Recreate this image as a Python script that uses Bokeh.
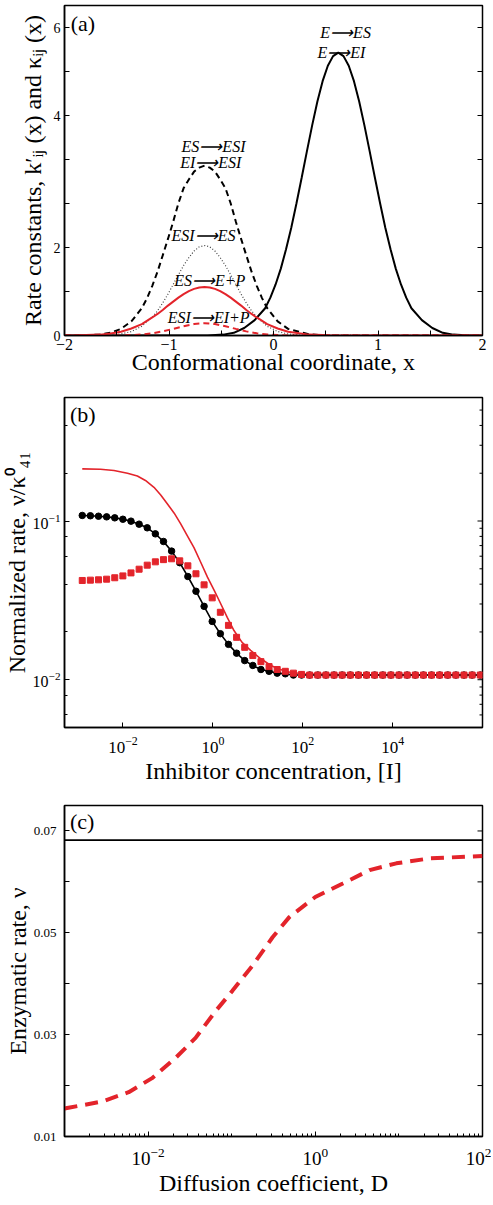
import numpy as np
from bokeh.plotting import figure
from bokeh.layouts import column
from bokeh.models import FixedTicker, LogTicker, Range1d
from bokeh.embed import file_html
from bokeh.resources import INLINE
from bokeh.core.properties import value

FONT = "Liberation Serif"
RED = "#e3242b"

# ---------------- Panel (a): rate constants vs conformational coordinate ----------------
a_solid_x = [-2.0, -0.63, -0.48, -0.38, -0.28, -0.18, -0.08, -0.03, 0.02, 0.07, 0.12, 0.17, 0.22, 0.27,
             0.32, 0.37, 0.42, 0.47, 0.52, 0.57, 0.62, 0.67, 0.72, 0.77, 0.82, 0.87, 0.92, 0.97,
             1.02, 1.07, 1.12, 1.17, 1.22, 1.27, 1.32, 1.42, 1.52, 1.62, 1.72, 1.87, 2.0]
a_solid_y = [0.0, 0.0, 0.02, 0.06, 0.17, 0.35, 0.62, 0.86, 1.16, 1.52, 1.96, 2.30, 2.67, 3.06,
             3.46, 3.85, 4.32, 4.78, 5.13, 5.35, 5.43, 5.35, 5.13, 4.78, 4.32, 3.85, 3.46, 3.06,
             2.67, 2.30, 1.96, 1.52, 1.16, 0.86, 0.62, 0.35, 0.17, 0.06, 0.02, 0.0, 0.0]

a_dash_x = [-2.0, -1.86, -1.66, -1.56, -1.46, -1.36, -1.26, -1.21, -1.16, -1.11, -1.06, -1.01, -0.96,
            -0.91, -0.86, -0.81, -0.76, -0.71, -0.66, -0.61, -0.56, -0.51, -0.46, -0.41, -0.36,
            -0.31, -0.26, -0.21, -0.16, -0.11, -0.06, 0.04, 0.14, 0.34, 0.54, 2.0]
a_dash_y = [0.0, 0.0, 0.025, 0.065, 0.15, 0.32, 0.62, 0.85, 1.13, 1.45, 1.82, 2.13, 2.39,
            2.67, 2.90, 3.03, 3.15, 3.21, 3.24, 3.21, 3.15, 3.03, 2.90, 2.67, 2.39,
            2.13, 1.82, 1.45, 1.13, 0.85, 0.62, 0.32, 0.15, 0.025, 0.0, 0.0]

a_dot_x = [-2.0, -1.56, -1.46, -1.36, -1.26, -1.16, -1.11, -1.06, -1.01, -0.96, -0.91, -0.86, -0.81,
           -0.76, -0.71, -0.66, -0.61, -0.56, -0.51, -0.46, -0.41, -0.36, -0.31, -0.26, -0.21,
           -0.16, -0.06, 0.04, 0.14, 0.24, 2.0]
a_dot_y = [0.0, 0.01, 0.035, 0.09, 0.21, 0.42, 0.56, 0.74, 0.94, 1.16, 1.38, 1.59, 1.77,
           1.92, 2.01, 2.03, 2.01, 1.92, 1.77, 1.59, 1.38, 1.16, 0.94, 0.74, 0.56,
           0.42, 0.21, 0.09, 0.035, 0.01, 0.0]

a_red_x = [-2.0, -1.86, -1.66, -1.56, -1.46, -1.36, -1.26, -1.16, -1.11, -1.06, -1.01, -0.96, -0.91,
           -0.86, -0.81, -0.76, -0.71, -0.66, -0.61, -0.56, -0.51, -0.46, -0.41, -0.36, -0.31,
           -0.26, -0.21, -0.16, -0.06, 0.04, 0.14, 0.34, 0.54, 2.0]
a_red_y = [0.0, 0.003, 0.02, 0.044, 0.087, 0.16, 0.26, 0.41, 0.49, 0.58, 0.68, 0.77, 0.86,
           0.94, 1.01, 1.06, 1.09, 1.10, 1.09, 1.06, 1.01, 0.94, 0.86, 0.77, 0.68,
           0.58, 0.49, 0.41, 0.26, 0.16, 0.087, 0.02, 0.003, 0.0]

a_reddash_x = [-2.0, -1.46, -1.36, -1.26, -1.16, -1.06, -0.96, -0.86, -0.76, -0.66, -0.56, -0.46,
               -0.36, -0.26, -0.16, -0.06, 0.04, 0.14, 2.0]
a_reddash_y = [0.0, 0.0, 0.01, 0.024, 0.05, 0.094, 0.15, 0.21, 0.26, 0.28, 0.26, 0.21,
               0.15, 0.094, 0.05, 0.024, 0.01, 0.0, 0.0]

# the printed y axis is uneven: labels 0,2,4,6 sit at tick slots 0,2,5,7
a_tick_vals = [0, 2, 4, 6]
a_tick_slots = [0, 2, 5, 7]
a_tick_labels = ["0", "2", "4", "6"]
a_xtick_labels = {-2: "\u22122", -1: "\u22121", 0: "0", 1: "1", 2: "2"}

a_notes = ["E\u27f6ES", "E\u27f6EI", "ES\u27f6ESI", "EI\u27f6ESI", "ESI\u27f6ES", "ES\u27f6E+P", "ESI\u27f6EI+P"]


def a_map(v):
    return np.interp(v, a_tick_vals, a_tick_slots)


# ---------------- Panel (b): normalized rate vs inhibitor concentration ----------------
b_conc = 10 ** np.linspace(-2.906, 5.95, 50)
b_black = [0.1084, 0.1079, 0.1072, 0.1062, 0.1047, 0.1026, 0.0998, 0.0955, 0.0906, 0.0830,
           0.0743, 0.0646, 0.0546, 0.0447, 0.0361, 0.0290, 0.0233, 0.0195, 0.0167, 0.0147,
           0.0132, 0.0123, 0.0116, 0.0113, 0.0110, 0.0109] + [0.0107] * 24
b_red_sq = [0.0422, 0.0424, 0.0426, 0.0430, 0.0439, 0.0451, 0.0471, 0.0497, 0.0527, 0.0553,
            0.0571, 0.0578, 0.0561, 0.0522, 0.0465, 0.0396, 0.0328, 0.0266, 0.0220, 0.0185,
            0.0160, 0.0142, 0.0130, 0.0121, 0.0116, 0.0113, 0.0110, 0.0108] + [0.0107] * 22
b_line_logx = [-2.906, -2.5, -2.2, -1.9, -1.68, -1.5, -1.31, -1.16, -1.01, -0.86, -0.715, -0.57,
               -0.42, -0.27, -0.12, 0.03, 0.175, 0.32, 0.47, 0.65, 0.84, 1.06, 1.29, 1.5,
               1.735, 2.03, 2.5, 3.0, 5.95]
b_line_y = [0.213, 0.212, 0.208, 0.200, 0.192, 0.180, 0.163, 0.146, 0.128, 0.112, 0.096, 0.081,
            0.068, 0.055, 0.0443, 0.0365, 0.0301, 0.0247, 0.0204, 0.0172, 0.0153, 0.0136, 0.0123, 0.0116,
            0.0111, 0.0109, 0.0108, 0.0107, 0.0107]

# ---------------- Panel (c): enzymatic rate vs diffusion coefficient ----------------
c_logD = [-3.0, -2.952, -2.552, -2.232, -1.952, -1.672, -1.432, -1.192, -0.992, -0.752, -0.511,
          -0.311, 0.0, 0.329, 0.649, 0.969, 1.370, 2.0]
c_rate = [0.0155, 0.01565, 0.01686, 0.01870, 0.02146, 0.02542, 0.02937, 0.03464, 0.03860, 0.04354,
          0.04913, 0.05308, 0.05704, 0.05968, 0.06231, 0.06364, 0.06462, 0.06508]
c_limit = 0.0682
c_yticks = [0.01, 0.02, 0.03, 0.04, 0.05, 0.06, 0.07]
c_ylabels = {0.01: "0.01", 0.02: "", 0.03: "0.03", 0.04: "", 0.05: "0.05", 0.06: "", 0.07: "0.07"}


def style_axis(ax, tick_size, label_size="24px", s1=4, s2=4):
    ax.major_label_text_font = FONT
    ax.major_label_text_font_size = tick_size
    ax.major_label_text_color = "black"
    ax.axis_label_text_font = FONT
    ax.axis_label_text_font_style = "normal"
    ax.axis_label_text_font_size = label_size
    ax.axis_label_text_color = "black"
    ax.major_tick_in = 5
    ax.major_tick_out = 0
    ax.minor_tick_in = 3
    ax.minor_tick_out = 0
    ax.axis_line_color = "black"
    ax.axis_line_width = 1.5
    ax.major_tick_line_color = "black"
    ax.minor_tick_line_color = "black"
    ax.major_label_standoff = s1
    ax.axis_label_standoff = s2


def base(p):
    p.xgrid.visible = False
    p.ygrid.visible = False
    p.outline_line_color = "black"
    p.outline_line_width = 1.5
    p.background_fill_color = "white"
    p.border_fill_color = "white"


def right_ticks_lin(p, x_hi, px_per_unit, ticks, length=5):
    x0 = x_hi - length / px_per_unit
    p.segment(x0=[x0] * len(ticks), y0=ticks, x1=[x_hi] * len(ticks), y1=ticks,
              line_color="black", line_width=1)


def right_ticks_log(p, x_hi, px_per_decade, ticks, length=5):
    x0 = x_hi / 10 ** (length / px_per_decade)
    p.segment(x0=[x0] * len(ticks), y0=ticks, x1=[x_hi] * len(ticks), y1=ticks,
              line_color="black", line_width=1)


FW = 418
common = dict(frame_width=FW, min_border_left=62, min_border_right=10,
              toolbar_location=None, output_backend="svg")

# ---- figure (a)
pa = figure(x_range=Range1d(-2, 2), y_range=Range1d(0, 7.5), frame_height=330,
            min_border_top=5, min_border_bottom=52, **common)
base(pa)
pa.line(a_solid_x, a_map(a_solid_y), line_color="black", line_width=2)
pa.line(a_dash_x, a_map(a_dash_y), line_color="black", line_width=2, line_dash="6 4")
pa.line(a_dot_x, a_map(a_dot_y), line_color="#444444", line_width=1.2, line_dash="1 2")
pa.line(a_red_x, a_map(a_red_y), line_color=RED, line_width=2)
pa.line(a_reddash_x, a_map(a_reddash_y), line_color=RED, line_width=2, line_dash="6 4")

xt = [-2, -1.5, -1, -0.5, 0, 0.5, 1, 1.5, 2]
pa.xaxis.ticker = FixedTicker(ticks=xt)
pa.xaxis.major_label_overrides = {t: a_xtick_labels.get(t, "") for t in xt}
pa.xaxis.axis_label = "Conformational coordinate, x"
style_axis(pa.xaxis[0], "16px", "24px", s1=3, s2=-4)
slots = list(range(8))
pa.yaxis.ticker = FixedTicker(ticks=slots)
ov = {s: "" for s in slots}
for s, lab in zip(a_tick_slots, a_tick_labels):
    ov[s] = lab
pa.yaxis.major_label_overrides = ov
pa.yaxis.axis_label = "Rate constants, k\u2032\u1d62\u2c7c (x) and \u03ba\u1d62\u2c7c (x)"
style_axis(pa.yaxis[0], "14px", "24px", s1=4, s2=5)
right_ticks_lin(pa, 2, FW / 4, slots)

note_x = [0.69, 0.65, -0.574, -0.60, -0.67, -0.61, -0.62]
note_y = [6.89, 6.43, 4.30, 3.93, 2.27, 1.25, 0.41]
pa.text(x=note_x, y=note_y, text=a_notes, text_font=value(FONT), text_font_style="italic",
        text_font_size="16px", text_align="center", text_baseline="middle", text_color="black")
pa.text(x=[-1.94], y=[7.38], text=["(a)"], text_font=value(FONT), text_font_size="22px",
        text_align="left", text_baseline="top", text_color="black")

# ---- figure (b)
pb = figure(x_axis_type="log", y_axis_type="log", x_range=Range1d(5e-4, 1e6), y_range=Range1d(0.005, 0.6),
            frame_height=330, min_border_top=10, min_border_bottom=63, **common)
base(pb)
pb.line(10 ** np.array(b_line_logx), b_line_y, line_color=RED, line_width=1.6)
pb.line(b_conc, b_black, line_color="black", line_width=1.6)
pb.scatter(b_conc, b_black, marker="circle", size=6.5, fill_color="black", line_color="black")
pb.scatter(b_conc, b_red_sq, marker="square", size=6, fill_color=RED, line_color=RED)
pb.xaxis.ticker = FixedTicker(ticks=[1e-2, 1, 1e2, 1e4], minor_ticks=[])
pb.xaxis.axis_label = "Inhibitor concentration, [I]"
style_axis(pb.xaxis[0], "17px", "24px", s1=9, s2=2)
pb.yaxis.ticker = LogTicker()
pb.yaxis.axis_label = "Normalized rate, \u03bd/\u03ba\u2070\u2084\u2081"
style_axis(pb.yaxis[0], "16px", "24px", s1=4, s2=0)
b_major = [0.01, 0.1]
b_minor = [m * 10.0 ** d for d in (-3, -2, -1) for m in range(2, 10) if 0.005 <= m * 10.0 ** d <= 0.6]
b_ppd = FW / np.log10(1e6 / 5e-4)
right_ticks_log(pb, 1e6, b_ppd, b_major, 5)
right_ticks_log(pb, 1e6, b_ppd, b_minor, 3)
pb.text(x=[6.6e-4], y=[0.56], text=["(b)"], text_font=value(FONT), text_font_size="22px",
        text_align="left", text_baseline="top", text_color="black")

# ---- figure (c)
pc = figure(x_axis_type="log", x_range=Range1d(1e-3, 1e2), y_range=Range1d(0.01, 0.075),
            frame_height=331, min_border_top=15, min_border_bottom=61, **common)
base(pc)
pc.line([1e-3, 1e2], [c_limit, c_limit], line_color="black", line_width=1.6)
pc.line(10 ** np.array(c_logD), c_rate, line_color=RED, line_width=4, line_dash="13 8")
minors = [m * 10.0 ** d for d in range(-3, 2) for m in range(1, 10) if not (m == 1 and d in (-2, 0))]
pc.xaxis.ticker = FixedTicker(ticks=[1e-2, 1, 1e2], minor_ticks=minors)
pc.xaxis.axis_label = "Diffusion coefficient, D"
style_axis(pc.xaxis[0], "19px", "24px", s1=11, s2=2)
pc.yaxis.ticker = FixedTicker(ticks=c_yticks, minor_ticks=[])
pc.yaxis.major_label_overrides = c_ylabels
pc.yaxis.axis_label = "Enzymatic rate, \u03bd"
style_axis(pc.yaxis[0], "13px", "24px", s1=8, s2=0)
right_ticks_log(pc, 1e2, FW / 5.0, c_yticks, 5)
pc.text(x=[1.16e-3], y=[0.0743], text=["(c)"], text_font=value(FONT), text_font_size="22px",
        text_align="left", text_baseline="top", text_color="black")

layout = column(pa, pb, pc, spacing=0)
open("out.html", "w").write(file_html(layout, INLINE))
